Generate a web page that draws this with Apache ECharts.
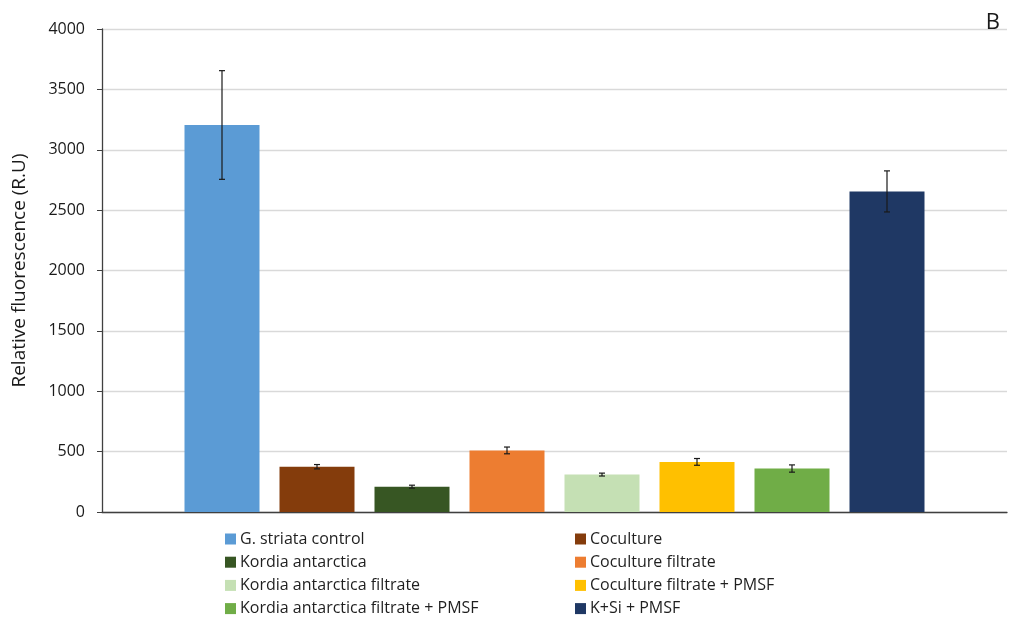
<!DOCTYPE html>
<html>
<head>
<meta charset="utf-8">
<script src="https://cdn.jsdelivr.net/npm/echarts@6/dist/echarts.min.js"></script>
<style>
html,body{margin:0;padding:0;background:#fff;}
#chart{width:1011px;height:620px;}
</style>
</head>
<body>
<div id="chart"></div>
<script>
const categories = [
  'G. striata control',
  'Coculture',
  'Kordia antarctica',
  'Coculture filtrate',
  'Kordia antarctica filtrate',
  'Coculture filtrate + PMSF',
  'Kordia antarctica filtrate + PMSF',
  'K+Si + PMSF'
];
const values = [3205, 375, 210, 510, 310, 415, 360, 2655];
const errors = [450, 18, 12, 28, 12, 28, 30, 170];
const colors = ['#5B9BD5', '#843C0C', '#375623', '#ED7D31', '#C5E0B4', '#FFC000', '#70AD47', '#1F3864'];
const yTicks = [0, 500, 1000, 1500, 2000, 2500, 3000, 3500, 4000];

const FONT = '"Open Sans", sans-serif';
const chart = echarts.init(document.getElementById('chart'));

const barSeries = categories.map((name, i) => ({
  name: name,
  type: 'bar',
  xAxisIndex: 1,
  yAxisIndex: 1,
  stack: 'all',
  barWidth: 75,
  itemStyle: { color: colors[i] },
  data: categories.map((c, j) => (j === i ? values[i] : '-')),
  silent: true
}));

const errSeries = {
  type: 'custom',
  xAxisIndex: 1,
  yAxisIndex: 1,
  z: 10,
  silent: true,
  data: values.map((v, i) => [i, v - errors[i], v + errors[i]]),
  renderItem: function (params, api) {
    const x = api.value(0);
    const lo = api.coord([x, api.value(1)]);
    const hi = api.coord([x, api.value(2)]);
    const cap = 3;
    const style = { stroke: '#1a1a1a', lineWidth: 1.2 };
    return {
      type: 'group',
      children: [
        { type: 'line', shape: { x1: hi[0], y1: hi[1], x2: lo[0], y2: lo[1] }, style: style },
        { type: 'line', shape: { x1: hi[0] - cap, y1: hi[1], x2: hi[0] + cap, y2: hi[1] }, style: style },
        { type: 'line', shape: { x1: lo[0] - cap, y1: lo[1], x2: lo[0] + cap, y2: lo[1] }, style: style }
      ]
    };
  }
};

const leftNames = categories.filter((c, i) => i % 2 === 0);
const rightNames = categories.filter((c, i) => i % 2 === 1);
const legendCommon = {
  orient: 'vertical',
  top: 531,
  height: 89,
  padding: 0,
  itemWidth: 11,
  itemHeight: 11,
  itemGap: 7.2,
  icon: 'rect',
  selectedMode: false,
  textStyle: { fontFamily: FONT, fontSize: 16, color: '#1f1f1f', padding: [0, 0, 0, -1] }
};

chart.setOption({
  animation: false,
  backgroundColor: '#ffffff',
  textStyle: { fontFamily: FONT },
  title: {
    text: 'B',
    right: 6,
    top: 7,
    textStyle: { fontFamily: FONT, fontSize: 22, fontWeight: 'normal', color: '#1a1a1a' }
  },
  legend: [
    Object.assign({}, legendCommon, { left: 225, data: leftNames }),
    Object.assign({}, legendCommon, { left: 575, data: rightNames })
  ],
  grid: [
    { left: 102, right: 4, top: 29, bottom: 108 },
    { left: 174.5, width: 760, top: 29, bottom: 108 }
  ],
  xAxis: [
    {
      gridIndex: 0, type: 'value', min: 0, max: 1,
      axisLine: { show: true, lineStyle: { color: '#404040', width: 1.3 } },
      axisTick: { show: false }, axisLabel: { show: false }, splitLine: { show: false }
    },
    {
      gridIndex: 1, type: 'category', data: categories,
      axisLine: { show: false }, axisTick: { show: false }, axisLabel: { show: false }
    }
  ],
  yAxis: [
    {
      gridIndex: 0, type: 'value', min: 0, max: 4000, interval: 500,
      name: 'Relative fluorescence (R.U)',
      nameLocation: 'middle',
      nameGap: 73,
      nameTextStyle: { fontFamily: FONT, fontSize: 19, color: '#1a1a1a' },
      axisLine: { show: true, lineStyle: { color: '#404040', width: 1.3 } },
      axisTick: { show: true, length: 5, lineStyle: { color: '#404040' } },
      axisLabel: {
        fontFamily: FONT, fontSize: 16, color: '#1a1a1a', margin: 17,
        formatter: function (v) { return yTicks.indexOf(v) >= 0 ? String(v) : ''; }
      },
      splitLine: { show: true, lineStyle: { color: '#d9d9d9', width: 1.3 } }
    },
    {
      gridIndex: 1, type: 'value', min: 0, max: 4000, interval: 500,
      axisLine: { show: false }, axisTick: { show: false }, axisLabel: { show: false },
      splitLine: { show: false }
    }
  ],
  series: barSeries.concat([errSeries])
});
</script>
</body>
</html>
